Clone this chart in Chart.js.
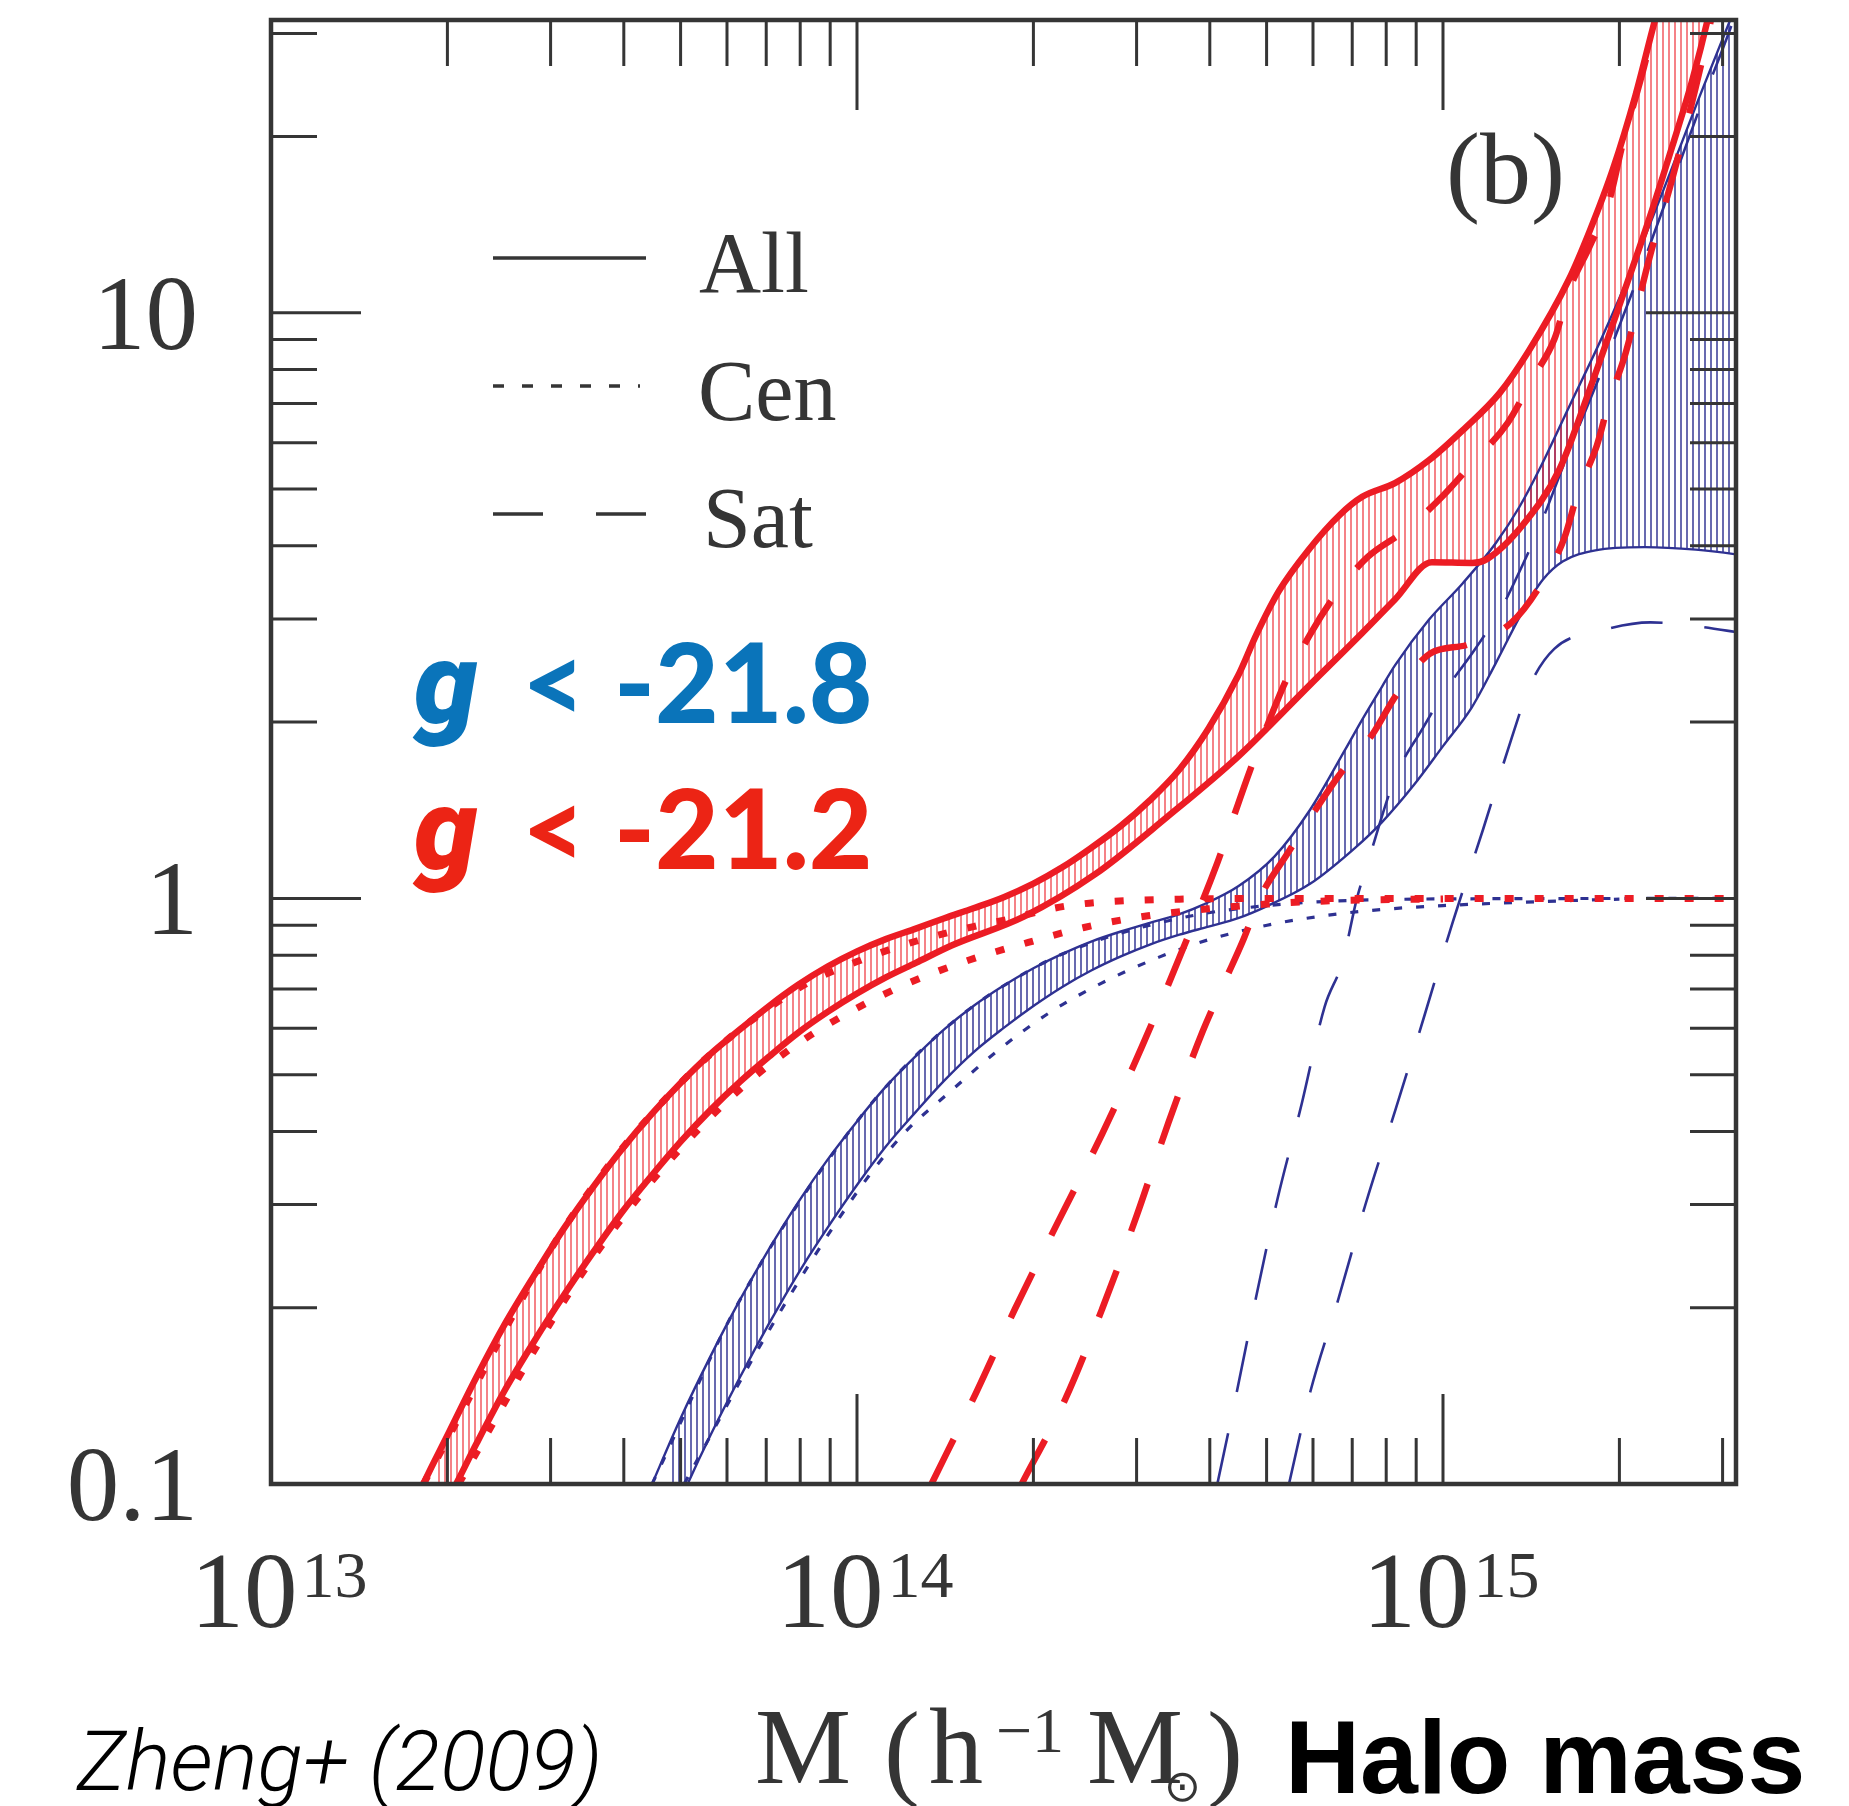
<!DOCTYPE html>
<html>
<head>
<meta charset="utf-8">
<script src="https://cdn.jsdelivr.net/npm/chart.js@4.4.1/dist/chart.umd.min.js"></script>
<style>
  html, body { margin: 0; padding: 0; background: #fff; }
  #wrap { width: 1849px; height: 1806px; }
</style>
</head>
<body>
<div id="wrap"><canvas id="chart" width="1849" height="1806"></canvas></div>
<script>

/*=============================================
DATA  (halo mass M in h^-1 Msun, mean occupation N)
=============================================*/

// g < -21.2 (red), "All" band
const redAllHiM = [1.70e13, 1.82e13, 2.00e13, 2.24e13, 2.51e13, 2.82e13, 3.16e13, 3.55e13, 3.98e13, 4.47e13, 5.01e13, 5.62e13, 6.31e13, 7.08e13, 7.94e13, 8.91e13, 1.00e14, 1.12e14, 1.26e14, 1.41e14, 1.58e14, 1.78e14, 2.00e14, 2.24e14, 2.51e14, 2.82e14, 3.16e14, 3.55e14, 3.98e14, 4.47e14, 4.81e14, 5.25e14, 5.90e14, 6.67e14, 7.28e14, 8.28e14, 9.46e14, 1.08e15, 1.25e15, 1.40e15, 1.64e15, 1.78e15, 1.95e15, 2.13e15, 2.30e15, 3.00e15]
const redAllHiN = [0.085, 0.10, 0.121, 0.152, 0.188, 0.228, 0.273, 0.322, 0.374, 0.429, 0.485, 0.542, 0.597, 0.655, 0.712, 0.765, 0.812, 0.852, 0.888, 0.925, 0.962, 1.005, 1.06, 1.13, 1.22, 1.33, 1.47, 1.66, 1.95, 2.40, 2.83, 3.35, 3.94, 4.52, 4.85, 5.12, 5.6, 6.3, 7.3, 8.6, 11.4, 13.8, 17.6, 23.5, 31.6, 80]
const redAllLoM = [1.90e13, 2.07e13, 2.24e13, 2.51e13, 2.82e13, 3.16e13, 3.55e13, 3.98e13, 4.47e13, 5.01e13, 5.62e13, 6.31e13, 7.08e13, 7.94e13, 8.91e13, 1.00e14, 1.12e14, 1.26e14, 1.45e14, 1.93e14, 2.55e14, 3.39e14, 4.48e14, 5.94e14, 7.28e14, 8.28e14, 9.57e14, 1.12e15, 1.19e15, 1.37e15, 1.58e15, 1.78e15, 2.02e15, 2.25e15, 2.46e15, 2.67e15, 2.83e15, 3.3e15]
const redAllLoN = [0.085, 0.10, 0.117, 0.145, 0.176, 0.210, 0.249, 0.292, 0.337, 0.385, 0.435, 0.486, 0.537, 0.590, 0.640, 0.688, 0.733, 0.776, 0.831, 0.932, 1.10, 1.38, 1.75, 2.32, 2.84, 3.24, 3.75, 3.74, 3.80, 4.35, 5.4, 7.4, 10.6, 14.5, 19.2, 25.2, 31.7, 65]

// g < -21.2 (red), centrals (two bounds) and satellites (two bounds)
const redCenHiM = [1.82e13, 3.16e13, 5.01e13, 7.94e13, 1.00e14, 1.26e14, 1.58e14, 1.85e14, 2.09e14, 2.35e14, 2.72e14, 3.55e14, 5.01e14, 3.55e15]
const redCenHiN = [0.10, 0.273, 0.485, 0.702, 0.780, 0.845, 0.895, 0.925, 0.955, 0.975, 0.988, 0.997, 1.0, 1.0]
const redCenLoM = [2.09e13, 3.16e13, 3.98e13, 5.01e13, 6.31e13, 7.93e13, 9.84e13, 1.23e14, 1.55e14, 1.96e14, 2.44e14, 3.16e14, 3.98e14, 5.01e14, 6.31e14, 1.0e15]
const redCenLoN = [0.10, 0.205, 0.285, 0.375, 0.472, 0.565, 0.644, 0.718, 0.784, 0.841, 0.892, 0.935, 0.96, 0.978, 0.99, 0.998]
const redSatHiM = [1.34e14, 1.58e14, 1.86e14, 2.21e14, 2.62e14, 3.07e14, 3.58e14, 4.12e14, 4.68e14, 5.02e14, 5.39e14, 5.94e14, 6.64e14, 7.44e14, 8.65e14, 1.00e15, 1.13e15, 1.29e15, 1.42e15, 1.55e15, 1.64e15, 1.78e15, 1.92e15, 2.02e15, 2.25e15, 2.40e15]
const redSatHiN = [0.10, 0.140, 0.199, 0.282, 0.396, 0.561, 0.809, 1.15, 1.65, 1.98, 2.35, 2.83, 3.36, 3.83, 4.26, 4.87, 5.58, 6.49, 7.71, 9.03, 10.9, 13.0, 15.5, 19.2, 28.7, 40]
const redSatLoM = [1.91e14, 2.27e14, 2.62e14, 3.00e14, 3.40e14, 3.89e14, 4.24e14, 4.55e14, 4.89e14, 5.39e14, 6.04e14, 6.64e14, 7.59e14, 8.31e14, 9.51e14, 1.10e15, 1.31e15, 1.47e15, 1.61e15, 1.70e15, 1.83e15, 1.92e15, 2.05e15, 2.25e15, 2.46e15, 2.82e15, 3.0e15]
const redSatLoN = [0.10, 0.140, 0.199, 0.287, 0.414, 0.593, 0.721, 0.844, 1.01, 1.18, 1.41, 1.62, 1.91, 2.22, 2.62, 2.71, 2.96, 3.44, 4.12, 4.94, 5.93, 7.05, 8.54, 12.4, 16.9, 29.3, 40]

// g < -21.8 (blue), "All" band
const blueAllHiM = [4.17e13, 4.47e13, 5.01e13, 5.62e13, 6.31e13, 7.08e13, 7.94e13, 8.91e13, 1.00e14, 1.12e14, 1.26e14, 1.41e14, 1.58e14, 1.78e14, 2.00e14, 2.24e14, 2.51e14, 2.82e14, 3.16e14, 3.55e14, 3.89e14, 4.48e14, 5.16e14, 5.94e14, 6.82e14, 7.28e14, 7.87e14, 8.28e14, 9.46e14, 1.08e15, 1.23e15, 1.35e15, 1.46e15, 1.64e15, 1.87e15, 2.13e15, 2.40e15, 2.74e15, 3.09e15, 3.55e15]
const blueAllHiN = [0.085, 0.10, 0.130, 0.165, 0.206, 0.252, 0.303, 0.358, 0.416, 0.477, 0.538, 0.598, 0.655, 0.710, 0.760, 0.804, 0.844, 0.878, 0.908, 0.94, 0.975, 1.05, 1.18, 1.42, 1.80, 2.02, 2.30, 2.50, 2.99, 3.45, 4.04, 4.66, 5.4, 6.9, 9.1, 12.3, 16.6, 23.4, 31.6, 45]
const blueAllLoM = [4.79e13, 5.14e13, 5.62e13, 6.31e13, 7.08e13, 7.94e13, 8.91e13, 1.00e14, 1.12e14, 1.26e14, 1.41e14, 1.58e14, 1.78e14, 2.00e14, 2.24e14, 2.51e14, 2.82e14, 3.16e14, 3.55e14, 3.98e14, 4.47e14, 5.01e14, 5.94e14, 7.08e14, 7.87e14, 8.91e14, 1.00e15, 1.12e15, 1.23e15, 1.37e15, 1.48e15, 1.60e15, 1.82e15, 2.21e15, 2.70e15, 3.21e15, 3.55e15]
const blueAllLoN = [0.085, 0.10, 0.121, 0.152, 0.188, 0.229, 0.274, 0.324, 0.377, 0.432, 0.489, 0.546, 0.601, 0.655, 0.706, 0.753, 0.796, 0.834, 0.867, 0.895, 0.925, 0.97, 1.06, 1.22, 1.35, 1.56, 1.82, 2.12, 2.52, 3.10, 3.50, 3.76, 3.93, 3.98, 3.94, 3.86, 3.80]

// g < -21.8 (blue), centrals (two bounds) and satellites (two bounds)
const blueCenHiM = [4.47e13, 6.31e13, 1.00e14, 1.41e14, 2.00e14, 2.51e14, 3.16e14, 3.98e14, 5.01e14, 6.31e14, 1.0e15, 3.55e15]
const blueCenHiN = [0.10, 0.206, 0.416, 0.598, 0.76, 0.84, 0.90, 0.945, 0.972, 0.988, 0.998, 1.0]
const blueCenLoM = [5.07e13, 7.08e13, 1.00e14, 1.20e14, 1.45e14, 1.74e14, 2.12e14, 2.61e14, 3.27e14, 3.98e14, 5.01e14, 6.31e14, 7.94e14, 1.0e15, 1.58e15, 2.0e15]
const blueCenLoN = [0.10, 0.183, 0.315, 0.396, 0.470, 0.550, 0.636, 0.716, 0.793, 0.85, 0.90, 0.935, 0.958, 0.972, 0.99, 0.997]
const blueSatHiM = [4.12e14, 4.45e14, 4.81e14, 5.22e14, 5.74e14, 6.28e14, 6.74e14, 7.13e14, 7.44e14, 8.31e14, 9.20e14, 1.02e15, 1.13e15, 1.26e15, 1.33e15, 1.46e15, 1.64e15, 1.87e15, 2.13e15, 2.40e15, 2.74e15, 3.09e15, 3.40e15]
const blueSatHiN = [0.10, 0.144, 0.211, 0.307, 0.446, 0.653, 0.78, 1.0, 1.15, 1.62, 1.94, 2.30, 2.65, 3.14, 3.5, 4.3, 5.8, 8.0, 11.2, 15.5, 22.3, 30.5, 40]
const blueSatLoM = [5.46e14, 5.94e14, 6.64e14, 7.38e14, 8.31e14, 9.32e14, 1.04e15, 1.17e15, 1.31e15, 1.41e15, 1.55e15, 1.87e15, 2.26e15, 3.17e15, 3.4e15]
const blueSatLoN = [0.10, 0.144, 0.208, 0.301, 0.438, 0.636, 0.914, 1.31, 1.88, 2.32, 2.67, 2.87, 2.96, 2.85, 2.82]

// axes
const xMajorTicks = [1e13, 1e14, 1e15]
const xMinorTicks = [2e13, 3e13, 4e13, 5e13, 6e13, 7e13, 8e13, 9e13, 2e14, 3e14, 4e14, 5e14, 6e14, 7e14, 8e14, 9e14, 2e15, 3e15]
const xTickExp = ['13', '14', '15']
const yMajorTicks = [0.1, 1, 10]
const yMinorTicks = [0.2, 0.3, 0.4, 0.5, 0.6, 0.7, 0.8, 0.9, 2, 3, 4, 5, 6, 7, 8, 9, 20, 30]
const yTickLabels = ['0.1', '1', '10']

/*=============================================
STYLE HELPERS
=============================================*/

const RED = '#ec1c24'
const NAVY = '#2e3192'
const INK = '#353535'
const SERIF = '"Liberation Serif", "DejaVu Serif", serif'

const canvas = document.getElementById('chart')
const mainCtx = canvas.getContext('2d')

const hatch = (color, lineW)=>{
    let c = document.createElement('canvas')
    c.width = 6
    c.height = 8
    let g = c.getContext('2d')
    g.fillStyle = color
    g.fillRect(0, 0, lineW, 8)
    return mainCtx.createPattern(c, 'repeat')
}

const pts = (xs, ys)=> xs.map((x, i)=>({x: x, y: ys[i]}))

const curve = (label, xs, ys, color, width, dash, extra)=>{
    return Object.assign({
        label: label,
        data: pts(xs, ys),
        borderColor: color,
        borderWidth: width,
        borderDash: dash || [],
        borderCapStyle: 'butt',
        pointRadius: 0,
        fill: false,
        cubicInterpolationMode: 'monotone',
        clip: 0
    }, extra || {})
}

/*=============================================
FRAME, INWARD TICKS AND TEXT
=============================================*/

const frameTicks = {
    id: 'frameTicks',
    afterDatasetsDraw(chart){
        const {ctx, chartArea: a} = chart
        const sx = chart.scales.x
        const sy = chart.scales.y
        ctx.save()
        ctx.strokeStyle = INK
        ctx.lineWidth = 3
        ctx.beginPath()
        const xt = (v, len)=>{
            let px = sx.getPixelForValue(v)
            ctx.moveTo(px, a.bottom); ctx.lineTo(px, a.bottom - len)
            ctx.moveTo(px, a.top); ctx.lineTo(px, a.top + len)
        }
        const yt = (v, len)=>{
            let py = sy.getPixelForValue(v)
            ctx.moveTo(a.left, py); ctx.lineTo(a.left + len, py)
            ctx.moveTo(a.right, py); ctx.lineTo(a.right - len, py)
        }
        xMajorTicks.forEach(v=>xt(v, 90))
        xMinorTicks.forEach(v=>xt(v, 46))
        yMajorTicks.forEach(v=>yt(v, 90))
        yMinorTicks.forEach(v=>yt(v, 46))
        ctx.stroke()
        ctx.lineWidth = 4.5
        ctx.strokeRect(a.left, a.top, a.right - a.left, a.bottom - a.top)
        ctx.restore()
    },
    afterDraw(chart){
        const {ctx} = chart
        const sx = chart.scales.x
        const sy = chart.scales.y
        ctx.save()
        ctx.fillStyle = INK
        ctx.textBaseline = 'alphabetic'

        // y tick labels
        ctx.font = '105px ' + SERIF
        ctx.textAlign = 'right'
        yMajorTicks.forEach((v, i)=>{
            ctx.fillText(yTickLabels[i], 198, sy.getPixelForValue(v) + 36)
        })

        // x tick labels 10^n
        ctx.textAlign = 'left'
        xMajorTicks.forEach((v, i)=>{
            ctx.font = '107px ' + SERIF
            let w1 = ctx.measureText('10').width
            ctx.font = '66px ' + SERIF
            let w2 = ctx.measureText(xTickExp[i]).width
            let start = sx.getPixelForValue(v) + 8 - (w1 + 4 + w2) / 2
            ctx.font = '107px ' + SERIF
            ctx.fillText('10', start, 1627)
            ctx.font = '66px ' + SERIF
            ctx.fillText(xTickExp[i], start + w1 + 4, 1597)
        })

        // x axis title  M (h^-1 M_sun)
        ctx.font = '108px ' + SERIF
        ctx.fillText('M', 755, 1783)
        ctx.fillText('(', 884, 1786)
        ctx.fillText('h', 929, 1783)
        ctx.fillText('M', 1087, 1783)
        ctx.fillText(')', 1207, 1786)
        ctx.font = '64px ' + SERIF
        ctx.fillText('\u22121', 996, 1752)
        ctx.font = '44px "DejaVu Sans", sans-serif'
        ctx.fillText('\u2299', 1164, 1801)

        // legend
        ctx.font = '86px ' + SERIF
        ctx.fillText('All', 699, 292)
        ctx.fillText('Cen', 698, 420)
        ctx.fillText('Sat', 703, 547)
        ctx.strokeStyle = INK
        ctx.lineWidth = 3.5
        ctx.beginPath(); ctx.moveTo(493, 258); ctx.lineTo(646, 258); ctx.stroke()
        ctx.setLineDash([11, 18])
        ctx.beginPath(); ctx.moveTo(493, 386); ctx.lineTo(640, 386); ctx.stroke()
        ctx.setLineDash([50, 53])
        ctx.beginPath(); ctx.moveTo(493, 514); ctx.lineTo(646, 514); ctx.stroke()
        ctx.setLineDash([])

        // panel tag
        ctx.font = '102px ' + SERIF
        ctx.fillText('(b)', 1446, 203)

        // sample labels
        const tag = (color, base, text)=>{
            ctx.fillStyle = color
            ctx.font = 'italic 900 114px Roboto, Inter, sans-serif'
            ctx.fillText('g', 414, base)
            ctx.font = '900 110px Lato, "Open Sans", sans-serif'
            ctx.fillText('<', 522, base)
            ctx.fillText(text, 614, base)
        }
        tag('#0a74ba', 723, '-21.8')
        tag('#ec2415', 869, '-21.2')

        // credits and plain-language axis name
        ctx.fillStyle = '#000'
        ctx.font = 'italic 300 84px Roboto, Lato, sans-serif'
        ctx.fillText('Zheng+ (2009)', 77, 1790)
        ctx.font = 'bold 104px "Liberation Sans", Arial, sans-serif'
        ctx.fillText('Halo mass', 1285, 1793)

        ctx.restore()
    }
}

/*=============================================
CHART
=============================================*/

const redHatch = hatch('rgba(236,28,36,0.55)', 2)
const blueHatch = hatch('rgba(46,49,146,0.72)', 2)

let config = {
    type: 'line',
    data: {
        datasets: [
            curve('Red All upper', redAllHiM, redAllHiN, RED, 6.5, null, {fill: '+1', backgroundColor: redHatch}),
            curve('Red All lower', redAllLoM, redAllLoN, RED, 6.5),
            curve('Red Sat upper', redSatHiM, redSatHiN, RED, 6.5, [50, 42]),
            curve('Red Sat lower', redSatLoM, redSatLoN, RED, 6.5, [50, 42]),
            curve('Red Cen upper', redCenHiM, redCenHiN, RED, 7, [9, 21]),
            curve('Red Cen lower', redCenLoM, redCenLoN, RED, 7, [9, 21]),
            curve('Blue All upper', blueAllHiM, blueAllHiN, NAVY, 2.4, null, {fill: '+1', backgroundColor: blueHatch}),
            curve('Blue All lower', blueAllLoM, blueAllLoN, NAVY, 2.4),
            curve('Blue Sat upper', blueSatHiM, blueSatHiN, NAVY, 2.6, [52, 42]),
            curve('Blue Sat lower', blueSatLoM, blueSatLoN, NAVY, 2.6, [52, 42]),
            curve('Blue Cen upper', blueCenHiM, blueCenHiN, NAVY, 3.2, [8, 14]),
            curve('Blue Cen lower', blueCenLoM, blueCenLoN, NAVY, 3.2, [8, 14])
        ]
    },
    options: {
        responsive: false,
        devicePixelRatio: 1,
        animation: false,
        layout: {
            padding: {left: 271, right: 113, top: 20, bottom: 322}
        },
        scales: {
            x: {type: 'logarithmic', min: 1e13, max: 3.1623e15, display: false},
            y: {type: 'logarithmic', min: 0.1, max: 31.623, display: false}
        },
        plugins: {
            legend: {display: false},
            tooltip: {enabled: false},
            filler: {drawTime: 'beforeDatasetsDraw'}
        }
    },
    plugins: [frameTicks]
}

window.myChart = new Chart(mainCtx, config)

</script>
</body>
</html>
